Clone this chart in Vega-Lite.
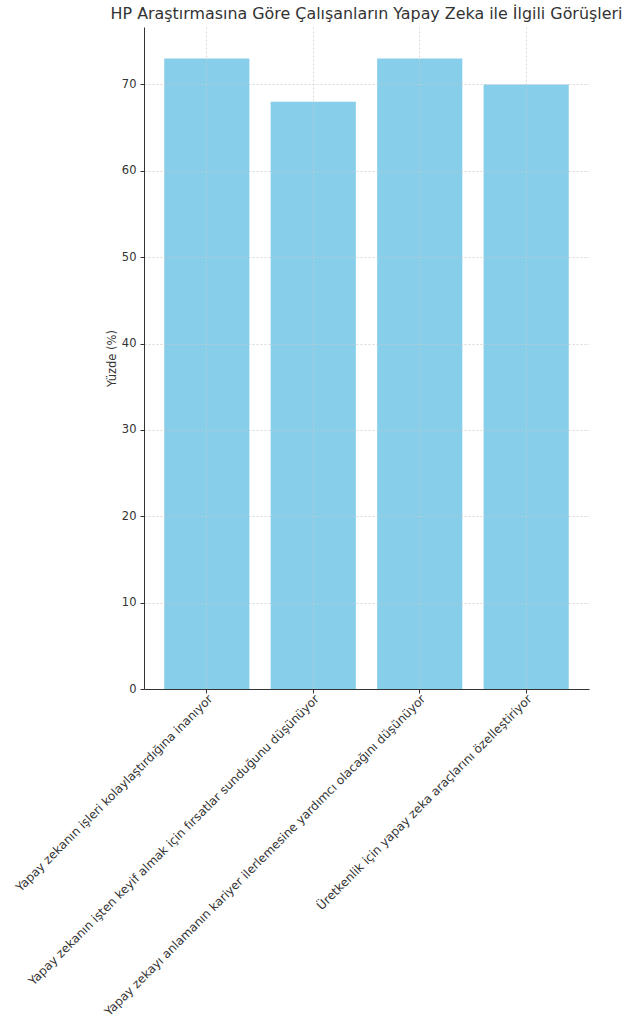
{
  "$schema": "https://vega.github.io/schema/vega-lite/v6.json",
  "autosize": {"type": "none"},
  "width": 445,
  "height": 662,
  "padding": {"left": 144, "top": 27, "right": 41, "bottom": 335},
  "background": "white",
  "config": {
    "font": "DejaVu Sans",
    "view": {"stroke": null}
  },
  "title": {
    "text": "HP Araştırmasına Göre Çalışanların Yapay Zeka ile İlgili Görüşleri",
    "font": "DejaVu Sans",
    "fontSize": 15.9,
    "fontWeight": "normal",
    "color": "#333333",
    "anchor": "middle",
    "offset": 5
  },
  "data": {
    "values": [
      {"kategori": "Yapay zekanın işleri kolaylaştırdığına inanıyor", "yuzde": 73},
      {"kategori": "Yapay zekanın işten keyif almak için fırsatlar sunduğunu düşünüyor", "yuzde": 68},
      {"kategori": "Yapay zekayı anlamanın kariyer ilerlemesine yardımcı olacağını düşünüyor", "yuzde": 73},
      {"kategori": "Üretkenlik için yapay zeka araçlarını özelleştiriyor", "yuzde": 70}
    ]
  },
  "mark": {"type": "bar", "color": "#87CEEB"},
  "encoding": {
    "x": {
      "field": "kategori",
      "type": "nominal",
      "sort": null,
      "scale": {"paddingInner": 0.2, "paddingOuter": 0.19},
      "axis": {
        "zindex": 1,
        "title": null,
        "labelAngle": -45,
        "labelAlign": "right",
        "labelBaseline": "top",
        "labelFontSize": 12,
        "labelColor": "#333333",
        "labelLimit": 0,
        "labelPadding": 0,
        "bandPosition": 0.5,
        "tickSize": 4,
        "tickColor": "#333333",
        "domainColor": "#333333",
        "grid": true,
        "gridDash": [2, 2],
        "gridColor": "#c8c8c8",
        "gridWidth": 0.7
      }
    },
    "y": {
      "field": "yuzde",
      "type": "quantitative",
      "scale": {"domain": [0, 76.65], "nice": false},
      "axis": {
        "zindex": 1,
        "title": "Yüzde (%)",
        "titleFontSize": 11.5,
        "titleFontWeight": "normal",
        "titleColor": "#333333",
        "titlePadding": 4,
        "values": [0, 10, 20, 30, 40, 50, 60, 70],
        "labelFontSize": 11.5,
        "labelColor": "#333333",
        "labelPadding": 4,
        "tickSize": 4,
        "tickColor": "#333333",
        "domainColor": "#333333",
        "grid": true,
        "gridDash": [2, 2],
        "gridColor": "#c8c8c8",
        "gridWidth": 0.7
      }
    }
  }
}
